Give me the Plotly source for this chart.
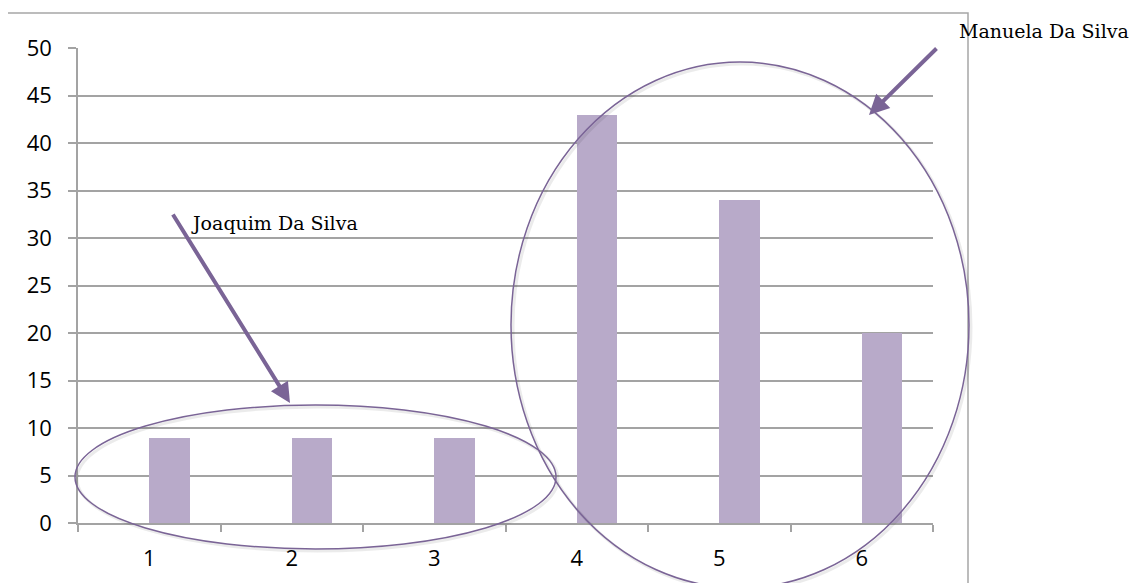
import plotly.graph_objects as go

categories = ["1", "2", "3", "4", "5", "6"]
values = [9, 9, 9, 43, 34, 20]
y_ticks = [0, 5, 10, 15, 20, 25, 30, 35, 40, 45, 50]

OFF = 8  # page body margin
W, H = 1147 - OFF, 583 - OFF
# plot area in reference-screen pixels
RL, RR, RT, RB = 78, 933, 48, 523

def px(x):
    return (x - RL) / (RR - RL)

def py(y):
    return (RB - y) / (RB - RT)

BAR = "#B8AAC9"
PURPLE = "#7A6496"
GRID = "#A3A3A3"

fig = go.Figure()
fig.add_trace(go.Bar(
    x=categories, y=values, marker=dict(color=BAR, line=dict(width=0)),
    width=0.2857, offset=0, showlegend=False, hoverinfo="skip"))

shapes = [
    dict(type="rect", xref="paper", yref="paper", x0=px(7), x1=px(968), y0=py(13), y1=py(620),
         line=dict(color="#A6A6A6", width=1.5), fillcolor="rgba(0,0,0,0)", layer="below"),
    # ellipse shadows
    dict(type="circle", xref="paper", yref="paper", x0=px(77), x1=px(558), y0=py(407), y1=py(551),
         line=dict(color="rgba(0,0,0,0.08)", width=3)),
    dict(type="circle", xref="paper", yref="paper", x0=px(513), x1=px(971), y0=py(64), y1=py(590),
         line=dict(color="rgba(0,0,0,0.08)", width=3)),
    dict(type="circle", xref="paper", yref="paper", x0=px(75), x1=px(556), y0=py(405), y1=py(549),
         line=dict(color=PURPLE, width=1.5)),
    dict(type="circle", xref="paper", yref="paper", x0=px(511), x1=px(969), y0=py(62), y1=py(588),
         line=dict(color=PURPLE, width=1.5)),
]

annotations = [
    dict(xref="paper", yref="paper", x=px(290), y=py(403), ax=-118, ay=-190,
         showarrow=True, arrowhead=2, arrowsize=1, arrowwidth=4, arrowcolor=PURPLE, text=""),
    dict(xref="paper", yref="paper", x=px(869), y=py(115), ax=69, ay=-68,
         showarrow=True, arrowhead=2, arrowsize=1, arrowwidth=4, arrowcolor=PURPLE, text=""),
    dict(xref="paper", yref="paper", x=px(189), y=py(223), xanchor="left", yanchor="middle",
         text="Joaquim Da Silva", showarrow=False,
         font=dict(family="DejaVu Serif", size=19, color="#000000")),
    dict(xref="paper", yref="paper", x=px(957), y=py(31), xanchor="left", yanchor="middle",
         text="Manuela Da Silva", showarrow=False,
         font=dict(family="DejaVu Serif", size=19, color="#000000")),
]

fig.update_layout(
    width=W, height=H, autosize=False,
    margin=dict(l=RL - OFF, r=W - (RR - OFF), t=RT - OFF, b=H - (RB - OFF), pad=0),
    paper_bgcolor="white", plot_bgcolor="white",
    shapes=shapes, annotations=annotations,
    font=dict(family="Open Sans", size=22, color="#000000"),
    bargap=0,
)
fig.update_xaxes(
    type="category", tickson="boundaries", ticks="outside", ticklen=7, tickwidth=1.5,
    tickcolor=GRID, showline=True, linecolor=GRID, linewidth=1.5, showgrid=False,
    tickfont=dict(family="Open Sans", size=22, color="#000000"), range=[-0.5, 5.5],
    ticklabelstandoff=15)
fig.update_yaxes(
    range=[0, 50], tickvals=y_ticks, ticks="outside", ticklen=8, tickwidth=1.5,
    tickcolor=GRID, showline=True, linecolor=GRID, linewidth=1.5, showgrid=True,
    gridcolor=GRID, gridwidth=1.5, zeroline=False,
    tickfont=dict(family="Open Sans", size=22, color="#000000"), ticklabelstandoff=12)

fig.write_html("out.html")
